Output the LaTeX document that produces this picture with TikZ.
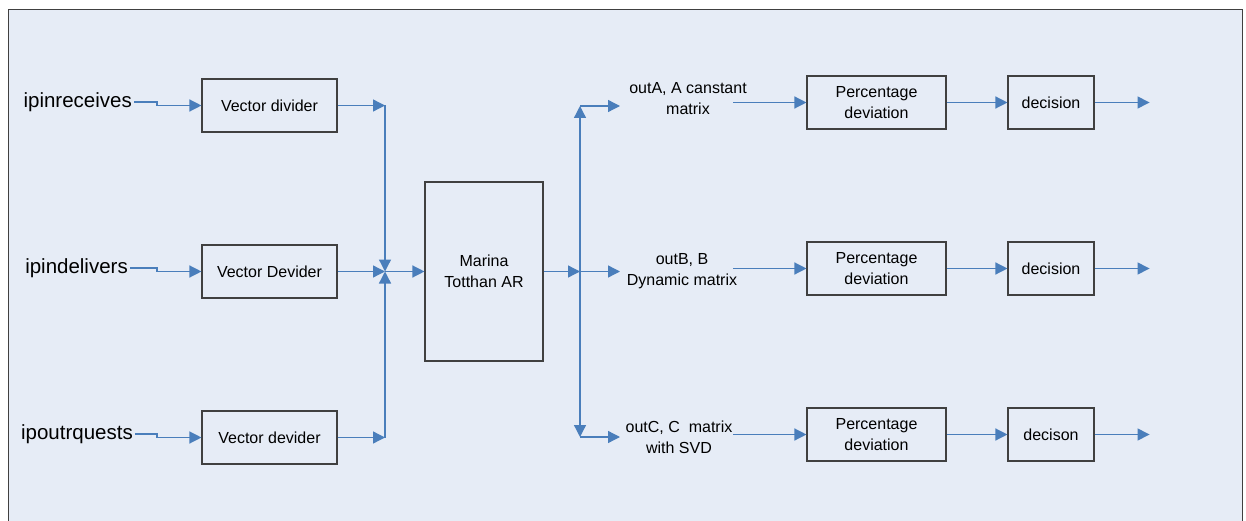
\documentclass[tikz,border=0pt]{standalone}
\usepackage{fontspec}
\setmainfont{Liberation Sans}
\usetikzlibrary{arrows.meta}
\definecolor{bgblue}{RGB}{230,236,246}
\definecolor{lnblue}{RGB}{74,126,187}
\definecolor{bxgray}{RGB}{64,64,64}
\tikzset{
	blk/.style = {draw=bxgray, line width=1.1pt, align=center, inner sep=0pt,
		font=\fontsize{16}{21}\selectfont},
	vd_box/.style = {blk, minimum width=135pt, minimum height=53pt},% vector divider
	ar_box/.style = {blk, minimum width=118pt, minimum height=179pt},% bloc AR
	pd_box/.style = {blk, minimum width=139pt, minimum height=53pt},% percentage deviation
	dc_box/.style = {blk, minimum width=86pt, minimum height=53pt},% decision
	in_lbl/.style = {inner sep=2pt, font=\fontsize{20.5}{24}\selectfont},% entree
	out_lbl/.style = {align=center, inner sep=0pt, font=\fontsize{16}{21}\selectfont},% sortie
	conn/.style = {draw=lnblue, line width=1.3pt, -{Triangle[length=12pt,width=12pt]}}
}

\begin{document}
\begin{tikzpicture}[x=1pt,y=-1pt]
	\useasboundingbox (0,0) rectangle (1246,521);
	\clip (0,0) rectangle (1246,521);
	\fill[white] (0,0) rectangle (1246,521);
	\draw[draw=bxgray, fill=bgblue, line width=1pt] (8,10) rectangle (1242,545);
	% entrees
	\node[in_lbl, anchor=east] (ipr) at (134,102) {ipinreceives};
	\node[in_lbl, anchor=east] (ipd) at (130,268) {ipindelivers};
	\node[in_lbl, anchor=east] (ipo) at (135,434) {ipoutrquests};
	\node[vd_box] (vd1) at (269.5,105.5) {Vector divider};
	\node[vd_box] (vd2) at (269.5,271.5) {Vector Devider};
	\node[vd_box] (vd3) at (269.5,437.5) {Vector devider};
	\node[ar_box] (mar) at (484,271.5) {Marina\\Totthan AR};
	\coordinate (j1) at (385,105.5);
	\coordinate (jm) at (385,271.5);
	\coordinate (j3) at (385,437.5);
	\coordinate (jo) at (580,271.5);
	\coordinate (ja) at (580,106);
	\coordinate (jc) at (580,437);
	% sorties
	\node[out_lbl] (la) at (688,99) {outA, A canstant\\matrix};
	\node[out_lbl] (lb) at (682,271.5) {outB, B\\Dynamic matrix};
	\node[out_lbl] (lc) at (679,437.5) {outC, C\ \ matrix\\with SVD};
	\coordinate (sa) at (733,102.5);
	\coordinate (sb) at (733,268.5);
	\coordinate (sc) at (733,434.5);
	\node[pd_box] (pd1) at (876.5,102.5) {Percentage\\deviation};
	\node[pd_box] (pd2) at (876.5,268.5) {Percentage\\deviation};
	\node[pd_box] (pd3) at (876.5,434.5) {Percentage\\deviation};
	\node[dc_box] (dc1) at (1051,102.5) {decision};
	\node[dc_box] (dc2) at (1051,268.5) {decision};
	\node[dc_box] (dc3) at (1051,434.5) {decison};
	% connexions
	\draw[conn] (ipr.east) -- (157,102) |- (vd1.west);
	\draw[conn] (ipd.east) -- (157,268) |- (vd2.west);
	\draw[conn] (ipo.east) -- (157,434) |- (vd3.west);
	\draw[conn] (vd1.east) -- (j1);
	\draw[conn] (vd2.east) -- (jm);
	\draw[conn] (vd3.east) -- (j3);
	\draw[conn] (j1) -- (jm);
	\draw[conn] (j3) -- (jm);
	\draw[conn] (jm) -- (mar.west);
	\draw[conn] (mar.east) -- (jo);
	\draw[conn] (jo) -- (ja);
	\draw[conn] (jo) -- (jc);
	\draw[conn] (ja) -- ++(40,0);
	\draw[conn] (jo) -- ++(40,0);
	\draw[conn] (jc) -- ++(40,0);
	\draw[conn] (sa) -- (pd1.west);
	\draw[conn] (sb) -- (pd2.west);
	\draw[conn] (sc) -- (pd3.west);
	\draw[conn] (pd1.east) -- (dc1.west);
	\draw[conn] (pd2.east) -- (dc2.west);
	\draw[conn] (pd3.east) -- (dc3.west);
	\draw[conn] (dc1.east) -- ++(55,0);
	\draw[conn] (dc2.east) -- ++(55,0);
	\draw[conn] (dc3.east) -- ++(55,0);
\end{tikzpicture}
\end{document}
